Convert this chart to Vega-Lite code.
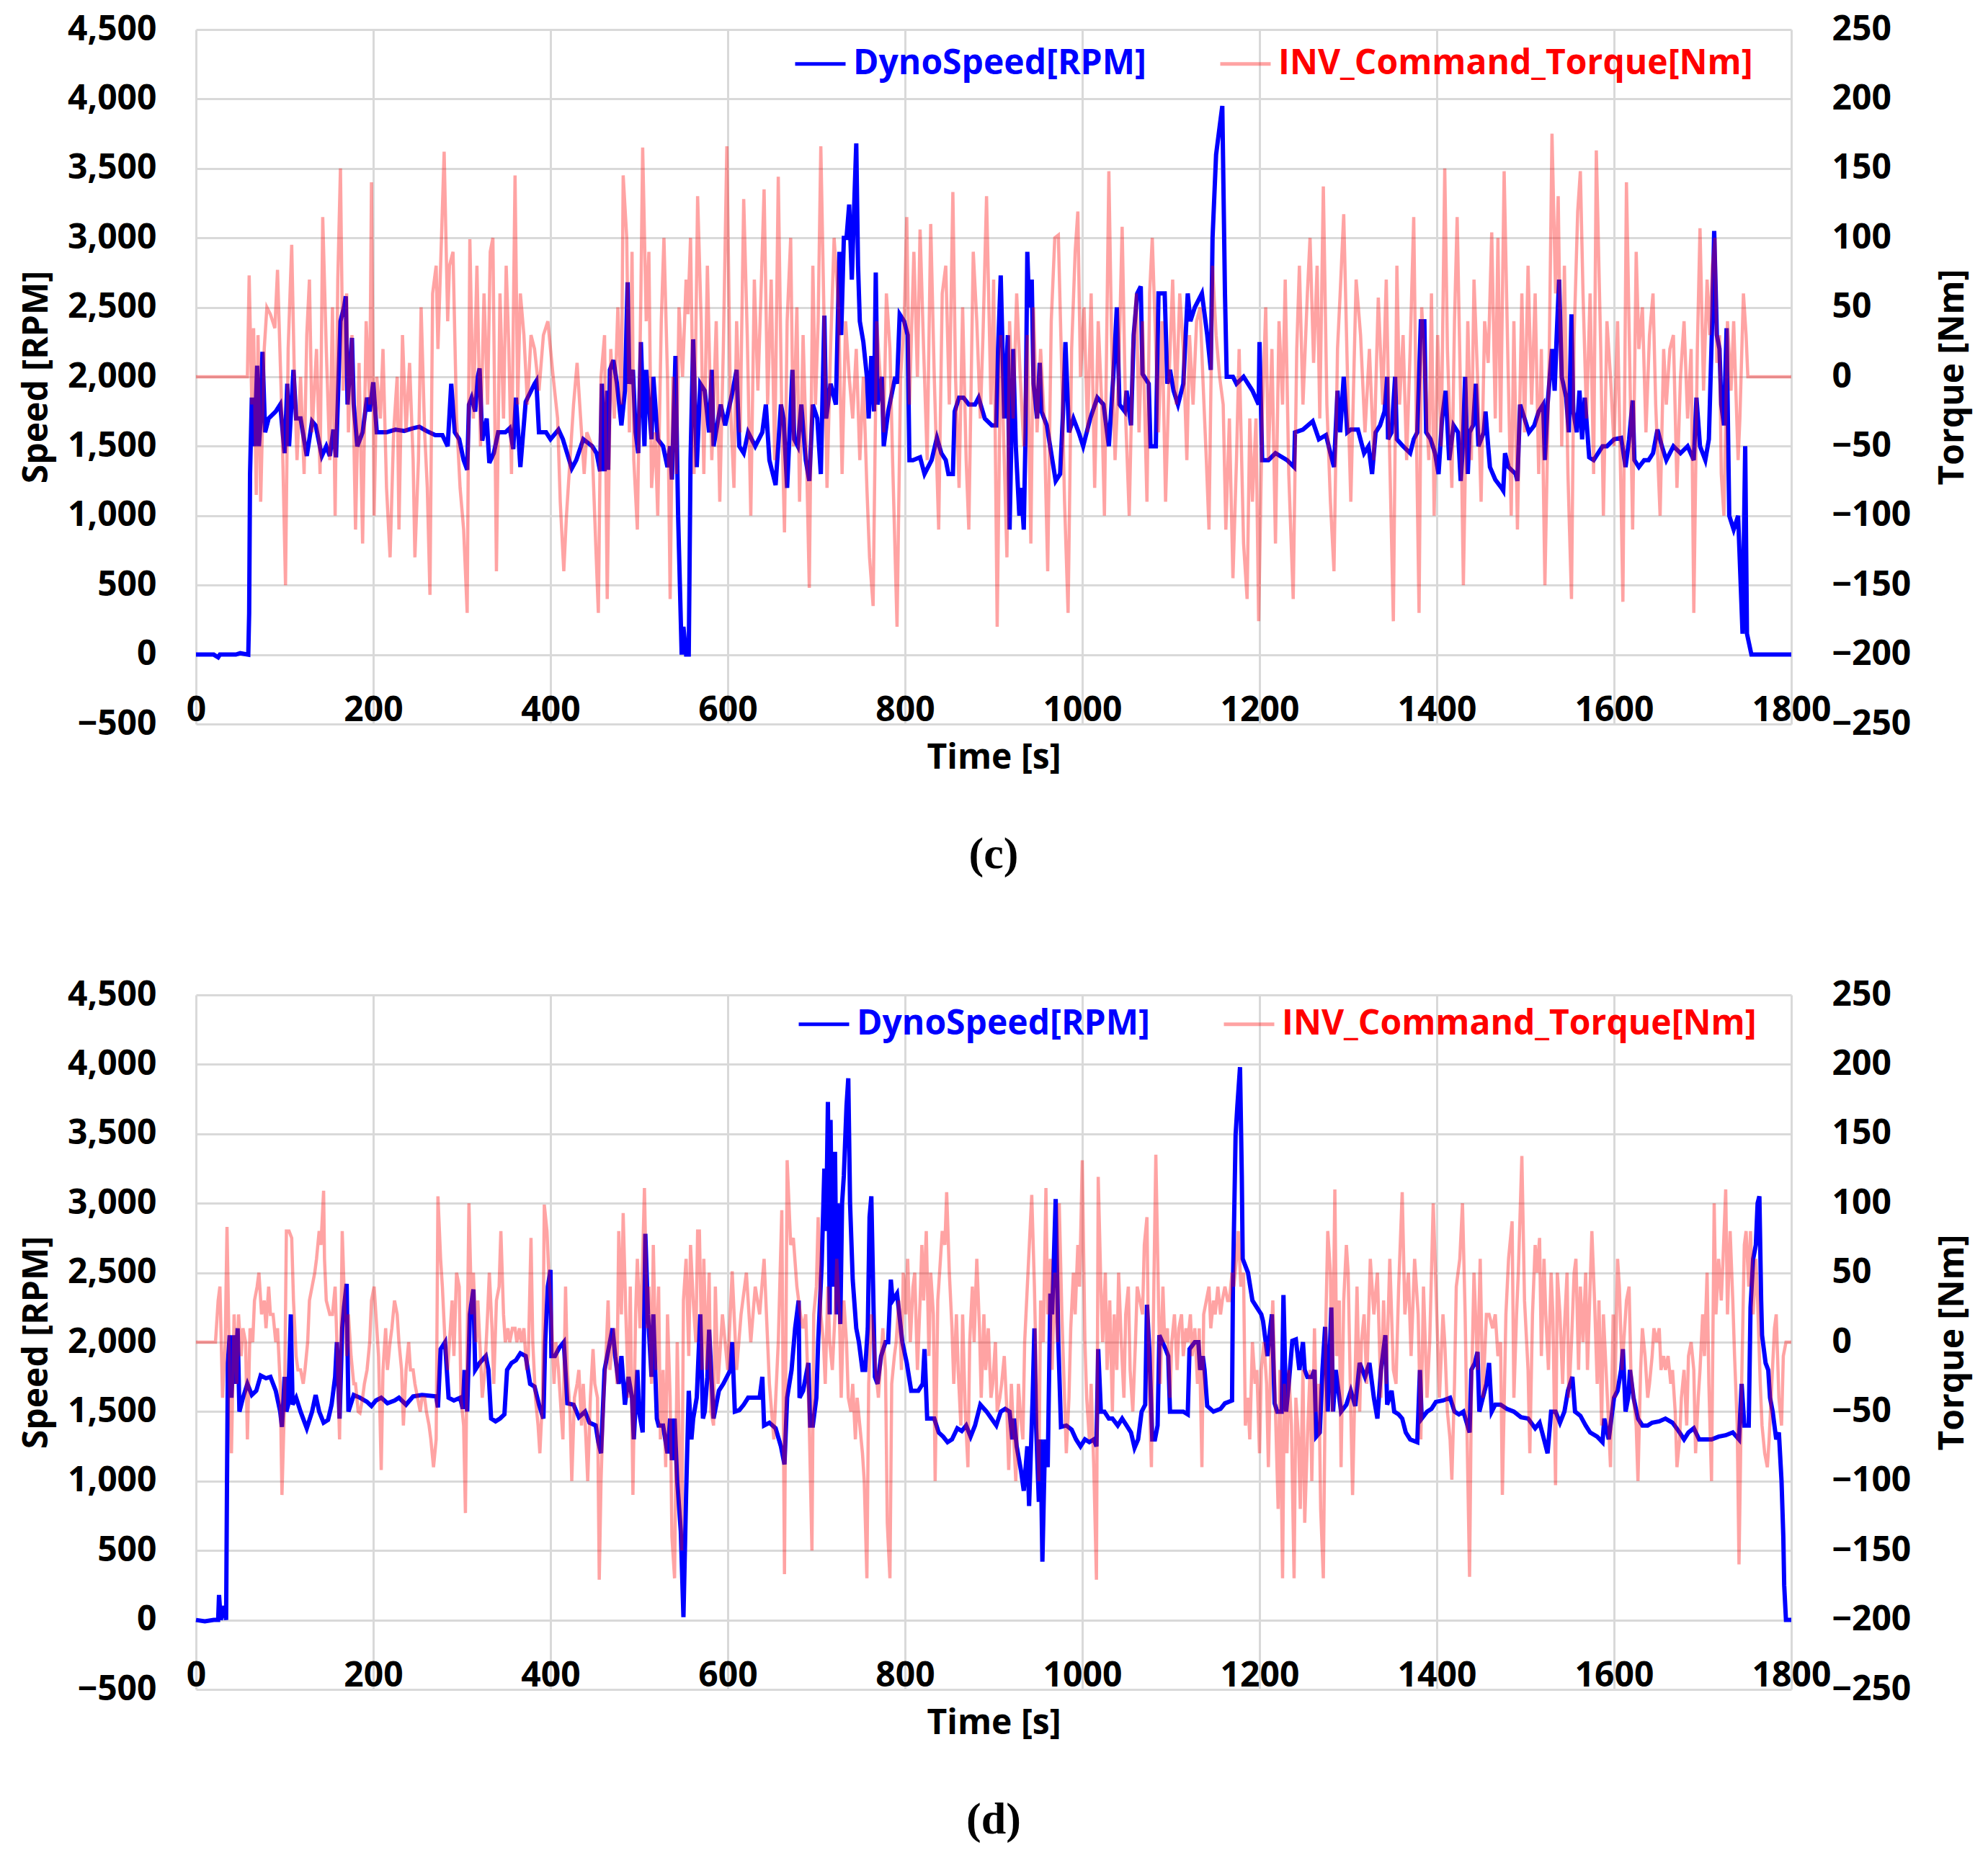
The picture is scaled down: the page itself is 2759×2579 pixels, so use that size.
{
  "$schema": "https://vega.github.io/schema/vega-lite/v6.json",
  "background": "white",
  "padding": {"left": 27, "top": 17, "right": 10, "bottom": 10},
  "spacing": 140,
  "config": {
    "view": {"stroke": null},
    "axis": {
      "labelFont": "Open Sans", "labelFontSize": 48, "labelFontWeight": "bold", "labelColor": "#000000",
      "titleFont": "Open Sans", "titleFontSize": 48, "titleFontWeight": "bold", "titleColor": "#000000",
      "gridColor": "#d9d9d9", "gridWidth": 3, "domain": false, "ticks": false, "labelOverlap": false
    }
  },
  "resolve": {"scale": {"color": "independent"}, "legend": {"color": "independent"}},
  "datasets": {
    "speedC": [
      {"t":0,"v":0},{"t":20,"v":0},{"t":25,"v":-20},{"t":27,"v":0},{"t":45,"v":0},{"t":50,"v":10},{"t":59,"v":0},{"t":60,"v":300},{"t":61,"v":1300},{"t":63,"v":1850},{"t":66,"v":1500},{"t":69,"v":2080},{"t":71,"v":1500},{"t":73,"v":1700},{"t":75,"v":2180},{"t":78,"v":1600},{"t":82,"v":1700},{"t":90,"v":1750},{"t":95,"v":1800},{"t":100,"v":1450},{"t":103,"v":1950},{"t":105,"v":1500},{"t":110,"v":2050},{"t":113,"v":1700},{"t":118,"v":1700},{"t":125,"v":1430},{"t":131,"v":1680},{"t":135,"v":1650},{"t":142,"v":1430},{"t":147,"v":1500},{"t":151,"v":1430},{"t":155,"v":1620},{"t":158,"v":1420},{"t":163,"v":2400},{"t":167,"v":2500},{"t":169,"v":2580},{"t":171,"v":1800},{"t":176,"v":2280},{"t":178,"v":1800},{"t":182,"v":1500},{"t":188,"v":1600},{"t":193,"v":1850},{"t":196,"v":1750},{"t":200,"v":1960},{"t":204,"v":1600},{"t":215,"v":1600},{"t":225,"v":1620},{"t":235,"v":1610},{"t":245,"v":1630},{"t":252,"v":1640},{"t":260,"v":1610},{"t":270,"v":1580},{"t":278,"v":1580},{"t":284,"v":1500},{"t":288,"v":1950},{"t":292,"v":1600},{"t":297,"v":1550},{"t":302,"v":1400},{"t":306,"v":1330},{"t":308,"v":1800},{"t":311,"v":1850},{"t":315,"v":1750},{"t":318,"v":2000},{"t":320,"v":2060},{"t":323,"v":1540},{"t":328,"v":1700},{"t":331,"v":1380},{"t":336,"v":1450},{"t":341,"v":1600},{"t":349,"v":1600},{"t":354,"v":1630},{"t":358,"v":1480},{"t":361,"v":1850},{"t":366,"v":1350},{"t":372,"v":1820},{"t":382,"v":1950},{"t":384,"v":1970},{"t":387,"v":1600},{"t":395,"v":1600},{"t":400,"v":1550},{"t":409,"v":1620},{"t":414,"v":1550},{"t":424,"v":1340},{"t":429,"v":1400},{"t":437,"v":1550},{"t":447,"v":1500},{"t":452,"v":1450},{"t":456,"v":1320},{"t":458,"v":1950},{"t":461,"v":1320},{"t":464,"v":1900},{"t":465,"v":1330},{"t":467,"v":2050},{"t":471,"v":2120},{"t":475,"v":1950},{"t":480,"v":1650},{"t":484,"v":1900},{"t":487,"v":2680},{"t":489,"v":1950},{"t":493,"v":2050},{"t":496,"v":1600},{"t":499,"v":1450},{"t":502,"v":2250},{"t":506,"v":1500},{"t":508,"v":2050},{"t":514,"v":1550},{"t":516,"v":2000},{"t":521,"v":1550},{"t":527,"v":1500},{"t":532,"v":1350},{"t":535,"v":1500},{"t":537,"v":1260},{"t":541,"v":2150},{"t":544,"v":1000},{"t":548,"v":0},{"t":550,"v":200},{"t":553,"v":0},{"t":556,"v":0},{"t":558,"v":1400},{"t":561,"v":2270},{"t":565,"v":1350},{"t":569,"v":1950},{"t":574,"v":1900},{"t":579,"v":1600},{"t":582,"v":2050},{"t":584,"v":1500},{"t":592,"v":1800},{"t":597,"v":1650},{"t":605,"v":1880},{"t":610,"v":2050},{"t":613,"v":1500},{"t":618,"v":1450},{"t":623,"v":1600},{"t":631,"v":1500},{"t":639,"v":1600},{"t":643,"v":1800},{"t":647,"v":1400},{"t":654,"v":1220},{"t":660,"v":1800},{"t":663,"v":1700},{"t":667,"v":1200},{"t":673,"v":2050},{"t":675,"v":1550},{"t":679,"v":1500},{"t":683,"v":1800},{"t":688,"v":1400},{"t":692,"v":1250},{"t":696,"v":1800},{"t":701,"v":1700},{"t":705,"v":1300},{"t":709,"v":2440},{"t":711,"v":1700},{"t":716,"v":1950},{"t":722,"v":1800},{"t":726,"v":2900},{"t":728,"v":2300},{"t":731,"v":3000},{"t":734,"v":3000},{"t":737,"v":3240},{"t":740,"v":2700},{"t":743,"v":3300},{"t":745,"v":3680},{"t":747,"v":2800},{"t":749,"v":2400},{"t":753,"v":2250},{"t":757,"v":2000},{"t":759,"v":1700},{"t":762,"v":2150},{"t":765,"v":1750},{"t":767,"v":2750},{"t":769,"v":1800},{"t":774,"v":2000},{"t":776,"v":1500},{"t":781,"v":1750},{"t":789,"v":2000},{"t":791,"v":1950},{"t":794,"v":2450},{"t":799,"v":2400},{"t":803,"v":2300},{"t":805,"v":1400},{"t":809,"v":1400},{"t":817,"v":1420},{"t":822,"v":1300},{"t":830,"v":1400},{"t":836,"v":1560},{"t":841,"v":1450},{"t":846,"v":1400},{"t":849,"v":1300},{"t":854,"v":1300},{"t":856,"v":1750},{"t":861,"v":1850},{"t":866,"v":1850},{"t":872,"v":1800},{"t":879,"v":1800},{"t":883,"v":1850},{"t":890,"v":1700},{"t":898,"v":1650},{"t":903,"v":1650},{"t":905,"v":2200},{"t":908,"v":2730},{"t":912,"v":1700},{"t":916,"v":2300},{"t":918,"v":900},{"t":922,"v":2200},{"t":925,"v":1500},{"t":929,"v":1000},{"t":931,"v":1200},{"t":934,"v":900},{"t":936,"v":1600},{"t":938,"v":2900},{"t":940,"v":2500},{"t":943,"v":2700},{"t":945,"v":1950},{"t":949,"v":1700},{"t":952,"v":2100},{"t":954,"v":1750},{"t":960,"v":1650},{"t":965,"v":1450},{"t":970,"v":1250},{"t":975,"v":1300},{"t":978,"v":1700},{"t":981,"v":2250},{"t":985,"v":1600},{"t":990,"v":1700},{"t":996,"v":1600},{"t":1001,"v":1500},{"t":1009,"v":1700},{"t":1017,"v":1850},{"t":1024,"v":1800},{"t":1030,"v":1500},{"t":1035,"v":2000},{"t":1039,"v":2500},{"t":1042,"v":1800},{"t":1048,"v":1750},{"t":1050,"v":1900},{"t":1055,"v":1650},{"t":1058,"v":2300},{"t":1062,"v":2600},{"t":1066,"v":2650},{"t":1068,"v":2020},{"t":1075,"v":1950},{"t":1077,"v":1500},{"t":1083,"v":1500},{"t":1086,"v":2600},{"t":1093,"v":2600},{"t":1096,"v":1950},{"t":1099,"v":2050},{"t":1103,"v":1900},{"t":1108,"v":1800},{"t":1114,"v":1950},{"t":1119,"v":2600},{"t":1122,"v":2400},{"t":1127,"v":2500},{"t":1135,"v":2600},{"t":1141,"v":2300},{"t":1145,"v":2050},{"t":1147,"v":3000},{"t":1151,"v":3600},{"t":1155,"v":3800},{"t":1158,"v":3950},{"t":1161,"v":2600},{"t":1163,"v":2000},{"t":1170,"v":2000},{"t":1174,"v":1950},{"t":1182,"v":2000},{"t":1187,"v":1950},{"t":1192,"v":1900},{"t":1199,"v":1800},{"t":1200,"v":2250},{"t":1203,"v":1400},{"t":1210,"v":1400},{"t":1218,"v":1450},{"t":1231,"v":1400},{"t":1239,"v":1350},{"t":1240,"v":1600},{"t":1249,"v":1620},{"t":1260,"v":1680},{"t":1267,"v":1550},{"t":1275,"v":1580},{"t":1280,"v":1450},{"t":1284,"v":1350},{"t":1288,"v":1900},{"t":1291,"v":1600},{"t":1295,"v":2000},{"t":1299,"v":1600},{"t":1303,"v":1620},{"t":1311,"v":1620},{"t":1318,"v":1450},{"t":1323,"v":1500},{"t":1327,"v":1300},{"t":1331,"v":1600},{"t":1336,"v":1650},{"t":1341,"v":1750},{"t":1344,"v":2000},{"t":1345,"v":1550},{"t":1349,"v":1600},{"t":1353,"v":2000},{"t":1355,"v":1550},{"t":1362,"v":1500},{"t":1370,"v":1450},{"t":1374,"v":1550},{"t":1378,"v":1600},{"t":1382,"v":2400},{"t":1386,"v":2400},{"t":1388,"v":1600},{"t":1393,"v":1550},{"t":1398,"v":1450},{"t":1402,"v":1300},{"t":1406,"v":1700},{"t":1410,"v":1900},{"t":1414,"v":1400},{"t":1419,"v":1650},{"t":1424,"v":1600},{"t":1427,"v":1250},{"t":1429,"v":1450},{"t":1432,"v":2000},{"t":1435,"v":1300},{"t":1437,"v":1600},{"t":1441,"v":1650},{"t":1444,"v":1950},{"t":1447,"v":1500},{"t":1453,"v":1600},{"t":1455,"v":1750},{"t":1458,"v":1500},{"t":1460,"v":1350},{"t":1466,"v":1260},{"t":1473,"v":1200},{"t":1475,"v":1180},{"t":1477,"v":1450},{"t":1481,"v":1350},{"t":1489,"v":1300},{"t":1491,"v":1250},{"t":1494,"v":1800},{"t":1499,"v":1700},{"t":1504,"v":1600},{"t":1510,"v":1650},{"t":1515,"v":1750},{"t":1520,"v":1800},{"t":1522,"v":1400},{"t":1525,"v":1800},{"t":1530,"v":2200},{"t":1533,"v":1900},{"t":1535,"v":2250},{"t":1538,"v":2700},{"t":1541,"v":2000},{"t":1546,"v":1850},{"t":1549,"v":1600},{"t":1552,"v":2450},{"t":1554,"v":1750},{"t":1558,"v":1600},{"t":1561,"v":1900},{"t":1564,"v":1550},{"t":1567,"v":1850},{"t":1572,"v":1420},{"t":1577,"v":1400},{"t":1582,"v":1450},{"t":1587,"v":1500},{"t":1592,"v":1500},{"t":1600,"v":1550},{"t":1608,"v":1560},{"t":1613,"v":1350},{"t":1617,"v":1550},{"t":1621,"v":1830},{"t":1623,"v":1400},{"t":1628,"v":1350},{"t":1634,"v":1400},{"t":1639,"v":1400},{"t":1644,"v":1450},{"t":1649,"v":1620},{"t":1654,"v":1500},{"t":1659,"v":1400},{"t":1667,"v":1500},{"t":1675,"v":1450},{"t":1683,"v":1500},{"t":1690,"v":1400},{"t":1693,"v":1850},{"t":1697,"v":1500},{"t":1703,"v":1400},{"t":1707,"v":1550},{"t":1711,"v":2450},{"t":1713,"v":3050},{"t":1716,"v":2300},{"t":1719,"v":2200},{"t":1721,"v":1800},{"t":1724,"v":1650},{"t":1727,"v":2350},{"t":1730,"v":1000},{"t":1735,"v":900},{"t":1740,"v":1000},{"t":1745,"v":150},{"t":1748,"v":1500},{"t":1750,"v":150},{"t":1755,"v":0},{"t":1800,"v":0}
    ],
    "torqueC": [
      {"t":0,"v":0},{"t":58,"v":0},{"t":60,"v":73},{"t":63,"v":-20},{"t":65,"v":35},{"t":68,"v":-85},{"t":70,"v":30},{"t":73,"v":-90},{"t":77,"v":20},{"t":80,"v":50},{"t":84,"v":45},{"t":89,"v":35},{"t":92,"v":77},{"t":97,"v":-30},{"t":101,"v":-150},{"t":104,"v":20},{"t":108,"v":95},{"t":111,"v":0},{"t":114,"v":-60},{"t":118,"v":0},{"t":122,"v":-70},{"t":125,"v":30},{"t":128,"v":70},{"t":131,"v":-40},{"t":136,"v":20},{"t":140,"v":-70},{"t":143,"v":115},{"t":147,"v":20},{"t":151,"v":-60},{"t":154,"v":50},{"t":157,"v":-100},{"t":160,"v":70},{"t":163,"v":150},{"t":166,"v":-10},{"t":170,"v":60},{"t":172,"v":-40},{"t":176,"v":30},{"t":180,"v":-110},{"t":184,"v":10},{"t":188,"v":-120},{"t":192,"v":40},{"t":196,"v":-20},{"t":198,"v":140},{"t":201,"v":-100},{"t":204,"v":0},{"t":208,"v":-30},{"t":211,"v":20},{"t":215,"v":-80},{"t":219,"v":-130},{"t":223,"v":-40},{"t":227,"v":0},{"t":229,"v":-110},{"t":233,"v":30},{"t":237,"v":-40},{"t":241,"v":10},{"t":245,"v":-60},{"t":247,"v":-130},{"t":251,"v":-60},{"t":254,"v":50},{"t":258,"v":-40},{"t":261,"v":-80},{"t":264,"v":-157},{"t":267,"v":60},{"t":271,"v":80},{"t":273,"v":20},{"t":277,"v":100},{"t":280,"v":162},{"t":284,"v":40},{"t":286,"v":80},{"t":290,"v":90},{"t":294,"v":-30},{"t":298,"v":-80},{"t":302,"v":-110},{"t":306,"v":-170},{"t":309,"v":99},{"t":313,"v":-30},{"t":317,"v":80},{"t":321,"v":-50},{"t":325,"v":60},{"t":329,"v":-20},{"t":332,"v":90},{"t":335,"v":100},{"t":339,"v":-140},{"t":343,"v":60},{"t":347,"v":-30},{"t":350,"v":80},{"t":353,"v":20},{"t":356,"v":-70},{"t":360,"v":145},{"t":363,"v":-20},{"t":366,"v":60},{"t":370,"v":30},{"t":374,"v":-20},{"t":378,"v":30},{"t":382,"v":20},{"t":387,"v":-10},{"t":392,"v":30},{"t":397,"v":40},{"t":403,"v":0},{"t":408,"v":-30},{"t":411,"v":-90},{"t":415,"v":-140},{"t":418,"v":-100},{"t":422,"v":-60},{"t":426,"v":-20},{"t":430,"v":10},{"t":434,"v":-30},{"t":438,"v":-70},{"t":441,"v":-40},{"t":447,"v":-50},{"t":451,"v":-120},{"t":454,"v":-170},{"t":457,"v":0},{"t":461,"v":30},{"t":464,"v":-160},{"t":468,"v":20},{"t":472,"v":-30},{"t":476,"v":50},{"t":480,"v":-20},{"t":482,"v":145},{"t":486,"v":100},{"t":489,"v":-40},{"t":492,"v":90},{"t":494,"v":-60},{"t":498,"v":-110},{"t":502,"v":60},{"t":504,"v":165},{"t":508,"v":40},{"t":511,"v":90},{"t":514,"v":-80},{"t":518,"v":-40},{"t":521,"v":-100},{"t":525,"v":40},{"t":528,"v":100},{"t":532,"v":0},{"t":535,"v":-160},{"t":538,"v":0},{"t":542,"v":-70},{"t":545,"v":50},{"t":549,"v":0},{"t":553,"v":70},{"t":555,"v":45},{"t":558,"v":100},{"t":562,"v":-70},{"t":566,"v":130},{"t":570,"v":40},{"t":573,"v":-70},{"t":577,"v":80},{"t":582,"v":-60},{"t":587,"v":40},{"t":591,"v":-90},{"t":595,"v":20},{"t":599,"v":166},{"t":603,"v":-20},{"t":607,"v":-80},{"t":610,"v":40},{"t":614,"v":-40},{"t":618,"v":128},{"t":622,"v":30},{"t":626,"v":-100},{"t":630,"v":70},{"t":634,"v":-10},{"t":638,"v":70},{"t":641,"v":135},{"t":645,"v":-20},{"t":649,"v":70},{"t":653,"v":-60},{"t":657,"v":144},{"t":661,"v":-30},{"t":664,"v":-112},{"t":667,"v":40},{"t":671,"v":100},{"t":674,"v":-50},{"t":678,"v":50},{"t":681,"v":-90},{"t":685,"v":30},{"t":689,"v":-60},{"t":692,"v":-152},{"t":696,"v":80},{"t":699,"v":-20},{"t":702,"v":40},{"t":705,"v":166},{"t":709,"v":30},{"t":712,"v":-80},{"t":716,"v":20},{"t":720,"v":100},{"t":725,"v":50},{"t":729,"v":-70},{"t":733,"v":40},{"t":737,"v":0},{"t":741,"v":-30},{"t":745,"v":20},{"t":749,"v":-60},{"t":753,"v":0},{"t":757,"v":-80},{"t":760,"v":-130},{"t":764,"v":-165},{"t":768,"v":40},{"t":772,"v":0},{"t":776,"v":-40},{"t":779,"v":60},{"t":783,"v":20},{"t":786,"v":-60},{"t":791,"v":-180},{"t":795,"v":0},{"t":799,"v":40},{"t":802,"v":115},{"t":805,"v":-20},{"t":810,"v":90},{"t":814,"v":0},{"t":817,"v":106},{"t":821,"v":20},{"t":825,"v":-60},{"t":829,"v":110},{"t":833,"v":0},{"t":838,"v":-110},{"t":842,"v":60},{"t":846,"v":80},{"t":850,"v":-20},{"t":854,"v":133},{"t":857,"v":0},{"t":861,"v":-80},{"t":865,"v":50},{"t":869,"v":-60},{"t":872,"v":-110},{"t":877,"v":90},{"t":881,"v":40},{"t":885,"v":-30},{"t":888,"v":30},{"t":892,"v":130},{"t":897,"v":-20},{"t":900,"v":70},{"t":904,"v":-180},{"t":908,"v":30},{"t":912,"v":-60},{"t":915,"v":-130},{"t":918,"v":40},{"t":922,"v":-30},{"t":926,"v":60},{"t":930,"v":0},{"t":934,"v":-50},{"t":938,"v":30},{"t":942,"v":-120},{"t":945,"v":50},{"t":949,"v":-40},{"t":953,"v":20},{"t":957,"v":-30},{"t":961,"v":-140},{"t":965,"v":40},{"t":969,"v":100},{"t":973,"v":102},{"t":977,"v":0},{"t":980,"v":-90},{"t":984,"v":-170},{"t":988,"v":20},{"t":992,"v":90},{"t":995,"v":119},{"t":998,"v":0},{"t":1002,"v":50},{"t":1006,"v":-40},{"t":1010,"v":60},{"t":1014,"v":-80},{"t":1018,"v":40},{"t":1022,"v":-20},{"t":1025,"v":-100},{"t":1030,"v":148},{"t":1033,"v":30},{"t":1037,"v":-60},{"t":1041,"v":0},{"t":1045,"v":108},{"t":1049,"v":-30},{"t":1053,"v":-100},{"t":1057,"v":20},{"t":1061,"v":60},{"t":1064,"v":-40},{"t":1068,"v":40},{"t":1073,"v":-90},{"t":1076,"v":60},{"t":1079,"v":100},{"t":1083,"v":20},{"t":1086,"v":-40},{"t":1090,"v":40},{"t":1094,"v":-90},{"t":1098,"v":0},{"t":1102,"v":70},{"t":1106,"v":-20},{"t":1110,"v":60},{"t":1114,"v":20},{"t":1118,"v":-60},{"t":1121,"v":30},{"t":1125,"v":-20},{"t":1129,"v":40},{"t":1133,"v":50},{"t":1136,"v":0},{"t":1140,"v":-60},{"t":1143,"v":-110},{"t":1147,"v":80},{"t":1151,"v":30},{"t":1155,"v":0},{"t":1159,"v":-20},{"t":1162,"v":-110},{"t":1166,"v":-30},{"t":1170,"v":-145},{"t":1174,"v":-60},{"t":1177,"v":20},{"t":1182,"v":-120},{"t":1186,"v":-160},{"t":1189,"v":-30},{"t":1192,"v":-90},{"t":1196,"v":-30},{"t":1199,"v":-176},{"t":1203,"v":-30},{"t":1207,"v":50},{"t":1210,"v":-60},{"t":1214,"v":20},{"t":1218,"v":-120},{"t":1222,"v":40},{"t":1226,"v":-20},{"t":1229,"v":70},{"t":1233,"v":-70},{"t":1238,"v":-160},{"t":1242,"v":20},{"t":1245,"v":80},{"t":1249,"v":-20},{"t":1254,"v":60},{"t":1257,"v":100},{"t":1261,"v":10},{"t":1265,"v":80},{"t":1268,"v":-30},{"t":1272,"v":137},{"t":1276,"v":-20},{"t":1280,"v":-90},{"t":1284,"v":-140},{"t":1288,"v":20},{"t":1291,"v":60},{"t":1295,"v":117},{"t":1300,"v":-20},{"t":1303,"v":-90},{"t":1309,"v":70},{"t":1314,"v":30},{"t":1319,"v":-40},{"t":1324,"v":20},{"t":1329,"v":-60},{"t":1334,"v":57},{"t":1339,"v":-20},{"t":1343,"v":70},{"t":1347,"v":-60},{"t":1351,"v":-176},{"t":1355,"v":80},{"t":1358,"v":-20},{"t":1362,"v":30},{"t":1366,"v":-60},{"t":1370,"v":20},{"t":1374,"v":115},{"t":1377,"v":-40},{"t":1380,"v":-170},{"t":1383,"v":50},{"t":1387,"v":0},{"t":1391,"v":-60},{"t":1394,"v":60},{"t":1397,"v":-100},{"t":1401,"v":30},{"t":1405,"v":-50},{"t":1409,"v":150},{"t":1412,"v":20},{"t":1417,"v":-80},{"t":1420,"v":40},{"t":1423,"v":115},{"t":1427,"v":-20},{"t":1430,"v":-150},{"t":1435,"v":40},{"t":1439,"v":-60},{"t":1442,"v":70},{"t":1446,"v":0},{"t":1450,"v":-90},{"t":1454,"v":40},{"t":1458,"v":10},{"t":1462,"v":104},{"t":1466,"v":-30},{"t":1469,"v":100},{"t":1472,"v":-40},{"t":1476,"v":148},{"t":1480,"v":20},{"t":1484,"v":-100},{"t":1487,"v":40},{"t":1491,"v":-110},{"t":1496,"v":60},{"t":1499,"v":-40},{"t":1503,"v":80},{"t":1507,"v":-20},{"t":1511,"v":60},{"t":1515,"v":-70},{"t":1518,"v":20},{"t":1522,"v":-150},{"t":1527,"v":20},{"t":1530,"v":175},{"t":1534,"v":60},{"t":1537,"v":130},{"t":1541,"v":-50},{"t":1544,"v":80},{"t":1548,"v":-70},{"t":1552,"v":-160},{"t":1555,"v":30},{"t":1559,"v":119},{"t":1562,"v":148},{"t":1565,"v":60},{"t":1569,"v":-30},{"t":1573,"v":60},{"t":1577,"v":-70},{"t":1580,"v":163},{"t":1585,"v":20},{"t":1588,"v":-100},{"t":1592,"v":40},{"t":1596,"v":0},{"t":1600,"v":-50},{"t":1604,"v":40},{"t":1608,"v":-90},{"t":1610,"v":-162},{"t":1614,"v":140},{"t":1618,"v":0},{"t":1621,"v":-110},{"t":1625,"v":90},{"t":1628,"v":20},{"t":1632,"v":50},{"t":1636,"v":-40},{"t":1640,"v":30},{"t":1644,"v":60},{"t":1647,"v":-20},{"t":1652,"v":-100},{"t":1656,"v":20},{"t":1659,"v":-20},{"t":1663,"v":20},{"t":1667,"v":30},{"t":1671,"v":-80},{"t":1675,"v":0},{"t":1679,"v":40},{"t":1683,"v":-30},{"t":1687,"v":20},{"t":1690,"v":-170},{"t":1694,"v":20},{"t":1697,"v":107},{"t":1701,"v":-10},{"t":1705,"v":70},{"t":1708,"v":30},{"t":1711,"v":80},{"t":1714,"v":100},{"t":1716,"v":10},{"t":1719,"v":30},{"t":1721,"v":-70},{"t":1724,"v":-100},{"t":1728,"v":40},{"t":1732,"v":-10},{"t":1735,"v":40},{"t":1740,"v":-60},{"t":1742,"v":-30},{"t":1746,"v":60},{"t":1749,"v":30},{"t":1751,"v":0},{"t":1800,"v":0}
    ],
    "speedD": [
      {"t":0,"v":0},{"t":10,"v":-10},{"t":20,"v":0},{"t":25,"v":0},{"t":26,"v":180},{"t":28,"v":0},{"t":32,"v":100},{"t":34,"v":0},{"t":35,"v":1000},{"t":36,"v":1850},{"t":38,"v":2050},{"t":40,"v":1600},{"t":43,"v":2050},{"t":44,"v":1700},{"t":47,"v":2100},{"t":49,"v":1500},{"t":53,"v":1600},{"t":58,"v":1700},{"t":63,"v":1620},{"t":68,"v":1650},{"t":73,"v":1760},{"t":79,"v":1740},{"t":84,"v":1750},{"t":90,"v":1650},{"t":95,"v":1500},{"t":97,"v":1390},{"t":100,"v":1750},{"t":102,"v":1500},{"t":104,"v":1550},{"t":107,"v":2200},{"t":109,"v":1550},{"t":113,"v":1600},{"t":118,"v":1500},{"t":125,"v":1380},{"t":131,"v":1500},{"t":135,"v":1620},{"t":139,"v":1500},{"t":144,"v":1420},{"t":149,"v":1440},{"t":153,"v":1550},{"t":157,"v":1750},{"t":159,"v":2000},{"t":162,"v":1450},{"t":165,"v":2100},{"t":167,"v":2250},{"t":170,"v":2420},{"t":172,"v":1500},{"t":178,"v":1620},{"t":185,"v":1600},{"t":193,"v":1570},{"t":198,"v":1540},{"t":203,"v":1580},{"t":209,"v":1600},{"t":216,"v":1560},{"t":224,"v":1580},{"t":229,"v":1600},{"t":237,"v":1550},{"t":245,"v":1610},{"t":255,"v":1620},{"t":271,"v":1610},{"t":273,"v":1530},{"t":276,"v":1950},{"t":281,"v":2000},{"t":285,"v":1600},{"t":291,"v":1580},{"t":298,"v":1600},{"t":301,"v":1520},{"t":303,"v":1800},{"t":306,"v":1500},{"t":309,"v":2200},{"t":313,"v":2380},{"t":315,"v":1800},{"t":320,"v":1850},{"t":327,"v":1900},{"t":330,"v":1800},{"t":333,"v":1450},{"t":338,"v":1430},{"t":343,"v":1450},{"t":348,"v":1480},{"t":351,"v":1800},{"t":356,"v":1850},{"t":361,"v":1870},{"t":366,"v":1920},{"t":372,"v":1900},{"t":377,"v":1700},{"t":382,"v":1680},{"t":387,"v":1550},{"t":392,"v":1450},{"t":394,"v":2000},{"t":397,"v":2400},{"t":400,"v":2520},{"t":401,"v":1900},{"t":405,"v":1900},{"t":410,"v":1960},{"t":415,"v":2000},{"t":419,"v":1560},{"t":426,"v":1550},{"t":432,"v":1460},{"t":439,"v":1500},{"t":444,"v":1420},{"t":451,"v":1400},{"t":454,"v":1280},{"t":457,"v":1200},{"t":461,"v":1800},{"t":464,"v":1900},{"t":470,"v":2100},{"t":473,"v":1900},{"t":477,"v":1700},{"t":480,"v":1900},{"t":484,"v":1550},{"t":488,"v":1750},{"t":492,"v":1600},{"t":494,"v":1300},{"t":498,"v":1800},{"t":500,"v":1500},{"t":504,"v":1350},{"t":507,"v":2780},{"t":510,"v":2200},{"t":514,"v":1750},{"t":516,"v":2200},{"t":520,"v":1450},{"t":522,"v":1400},{"t":527,"v":1400},{"t":532,"v":1200},{"t":535,"v":1450},{"t":537,"v":1150},{"t":540,"v":1450},{"t":543,"v":1000},{"t":547,"v":640},{"t":550,"v":20},{"t":553,"v":900},{"t":556,"v":1650},{"t":559,"v":1300},{"t":561,"v":1450},{"t":565,"v":1600},{"t":569,"v":2200},{"t":572,"v":1450},{"t":574,"v":1500},{"t":577,"v":1750},{"t":579,"v":2090},{"t":582,"v":1700},{"t":584,"v":1450},{"t":590,"v":1650},{"t":595,"v":1700},{"t":603,"v":1800},{"t":605,"v":2000},{"t":608,"v":1500},{"t":613,"v":1510},{"t":618,"v":1550},{"t":623,"v":1600},{"t":631,"v":1600},{"t":636,"v":1600},{"t":639,"v":1750},{"t":641,"v":1400},{"t":647,"v":1420},{"t":654,"v":1380},{"t":660,"v":1250},{"t":664,"v":1120},{"t":667,"v":1600},{"t":672,"v":1800},{"t":676,"v":2100},{"t":680,"v":2300},{"t":681,"v":1600},{"t":685,"v":1650},{"t":691,"v":1850},{"t":693,"v":1400},{"t":696,"v":1400},{"t":700,"v":1600},{"t":702,"v":2000},{"t":706,"v":2560},{"t":709,"v":3250},{"t":711,"v":2800},{"t":713,"v":3730},{"t":715,"v":2200},{"t":716,"v":3600},{"t":718,"v":2400},{"t":721,"v":3370},{"t":723,"v":2200},{"t":724,"v":3000},{"t":727,"v":2130},{"t":729,"v":3000},{"t":731,"v":3200},{"t":734,"v":3700},{"t":736,"v":3900},{"t":738,"v":3000},{"t":741,"v":2450},{"t":745,"v":2100},{"t":748,"v":2000},{"t":752,"v":1800},{"t":755,"v":1800},{"t":758,"v":2100},{"t":760,"v":2900},{"t":762,"v":3050},{"t":766,"v":1750},{"t":769,"v":1700},{"t":773,"v":1900},{"t":778,"v":2000},{"t":781,"v":2000},{"t":784,"v":2450},{"t":786,"v":2300},{"t":791,"v":2350},{"t":797,"v":2000},{"t":802,"v":1850},{"t":807,"v":1650},{"t":815,"v":1650},{"t":820,"v":1700},{"t":822,"v":1950},{"t":825,"v":1450},{"t":833,"v":1450},{"t":838,"v":1350},{"t":843,"v":1320},{"t":848,"v":1280},{"t":853,"v":1300},{"t":859,"v":1380},{"t":864,"v":1360},{"t":869,"v":1400},{"t":874,"v":1320},{"t":879,"v":1400},{"t":885,"v":1550},{"t":892,"v":1500},{"t":903,"v":1400},{"t":908,"v":1500},{"t":913,"v":1520},{"t":918,"v":1500},{"t":921,"v":1300},{"t":923,"v":1450},{"t":926,"v":1250},{"t":931,"v":1070},{"t":934,"v":930},{"t":938,"v":1250},{"t":940,"v":820},{"t":944,"v":1600},{"t":946,"v":2100},{"t":948,"v":1380},{"t":951,"v":850},{"t":953,"v":1300},{"t":955,"v":420},{"t":958,"v":1300},{"t":961,"v":1100},{"t":964,"v":2350},{"t":966,"v":2200},{"t":970,"v":3030},{"t":973,"v":2000},{"t":976,"v":1390},{"t":982,"v":1400},{"t":988,"v":1370},{"t":993,"v":1300},{"t":998,"v":1250},{"t":1003,"v":1300},{"t":1008,"v":1280},{"t":1013,"v":1300},{"t":1016,"v":1250},{"t":1018,"v":1950},{"t":1021,"v":1500},{"t":1025,"v":1500},{"t":1030,"v":1450},{"t":1034,"v":1450},{"t":1040,"v":1400},{"t":1045,"v":1450},{"t":1050,"v":1400},{"t":1055,"v":1350},{"t":1059,"v":1240},{"t":1063,"v":1300},{"t":1067,"v":1500},{"t":1071,"v":1550},{"t":1073,"v":2270},{"t":1076,"v":1900},{"t":1079,"v":1300},{"t":1082,"v":1300},{"t":1085,"v":1400},{"t":1087,"v":2050},{"t":1094,"v":1950},{"t":1097,"v":1900},{"t":1099,"v":1500},{"t":1106,"v":1500},{"t":1114,"v":1500},{"t":1119,"v":1480},{"t":1121,"v":1950},{"t":1127,"v":2000},{"t":1131,"v":2000},{"t":1133,"v":1800},{"t":1136,"v":1900},{"t":1138,"v":1800},{"t":1141,"v":1540},{"t":1148,"v":1500},{"t":1156,"v":1520},{"t":1161,"v":1560},{"t":1169,"v":1580},{"t":1170,"v":2400},{"t":1173,"v":3490},{"t":1175,"v":3700},{"t":1178,"v":3980},{"t":1180,"v":3200},{"t":1181,"v":2600},{"t":1187,"v":2500},{"t":1192,"v":2300},{"t":1197,"v":2250},{"t":1202,"v":2200},{"t":1204,"v":2150},{"t":1207,"v":2000},{"t":1209,"v":1900},{"t":1212,"v":2100},{"t":1214,"v":2200},{"t":1217,"v":1560},{"t":1220,"v":1500},{"t":1225,"v":1500},{"t":1227,"v":2340},{"t":1230,"v":1500},{"t":1233,"v":1700},{"t":1237,"v":2010},{"t":1241,"v":2020},{"t":1245,"v":1800},{"t":1249,"v":2000},{"t":1251,"v":1800},{"t":1254,"v":1750},{"t":1259,"v":1750},{"t":1262,"v":1800},{"t":1264,"v":1320},{"t":1268,"v":1350},{"t":1271,"v":1800},{"t":1274,"v":2110},{"t":1277,"v":1500},{"t":1281,"v":2250},{"t":1283,"v":1500},{"t":1286,"v":1800},{"t":1288,"v":1700},{"t":1292,"v":1500},{"t":1298,"v":1550},{"t":1303,"v":1650},{"t":1308,"v":1540},{"t":1313,"v":1850},{"t":1319,"v":1750},{"t":1324,"v":1850},{"t":1329,"v":1600},{"t":1333,"v":1450},{"t":1337,"v":1800},{"t":1339,"v":1900},{"t":1342,"v":2050},{"t":1344,"v":1550},{"t":1349,"v":1650},{"t":1352,"v":1500},{"t":1357,"v":1480},{"t":1361,"v":1450},{"t":1365,"v":1350},{"t":1370,"v":1300},{"t":1378,"v":1280},{"t":1381,"v":1800},{"t":1383,"v":1450},{"t":1389,"v":1500},{"t":1394,"v":1520},{"t":1399,"v":1570},{"t":1407,"v":1580},{"t":1415,"v":1600},{"t":1420,"v":1500},{"t":1425,"v":1480},{"t":1430,"v":1500},{"t":1437,"v":1350},{"t":1439,"v":1800},{"t":1443,"v":1850},{"t":1446,"v":1930},{"t":1448,"v":1500},{"t":1452,"v":1600},{"t":1456,"v":1700},{"t":1459,"v":1850},{"t":1462,"v":1500},{"t":1466,"v":1550},{"t":1472,"v":1550},{"t":1479,"v":1520},{"t":1487,"v":1500},{"t":1495,"v":1460},{"t":1503,"v":1450},{"t":1511,"v":1380},{"t":1516,"v":1420},{"t":1521,"v":1300},{"t":1525,"v":1200},{"t":1529,"v":1500},{"t":1534,"v":1500},{"t":1539,"v":1420},{"t":1544,"v":1500},{"t":1548,"v":1650},{"t":1553,"v":1750},{"t":1556,"v":1500},{"t":1562,"v":1470},{"t":1568,"v":1400},{"t":1573,"v":1350},{"t":1581,"v":1320},{"t":1587,"v":1280},{"t":1589,"v":1450},{"t":1594,"v":1300},{"t":1596,"v":1400},{"t":1600,"v":1600},{"t":1604,"v":1650},{"t":1608,"v":1800},{"t":1610,"v":1950},{"t":1613,"v":1500},{"t":1616,"v":1600},{"t":1618,"v":1800},{"t":1622,"v":1600},{"t":1627,"v":1450},{"t":1632,"v":1400},{"t":1638,"v":1400},{"t":1643,"v":1420},{"t":1651,"v":1430},{"t":1658,"v":1450},{"t":1666,"v":1420},{"t":1674,"v":1350},{"t":1679,"v":1300},{"t":1684,"v":1350},{"t":1690,"v":1380},{"t":1696,"v":1300},{"t":1702,"v":1300},{"t":1710,"v":1300},{"t":1718,"v":1320},{"t":1726,"v":1330},{"t":1734,"v":1350},{"t":1741,"v":1300},{"t":1744,"v":1700},{"t":1747,"v":1400},{"t":1752,"v":1400},{"t":1754,"v":2250},{"t":1757,"v":2600},{"t":1760,"v":2700},{"t":1762,"v":3000},{"t":1764,"v":3050},{"t":1766,"v":2300},{"t":1767,"v":2050},{"t":1771,"v":1850},{"t":1774,"v":1800},{"t":1776,"v":1600},{"t":1779,"v":1500},{"t":1783,"v":1300},{"t":1786,"v":1350},{"t":1789,"v":1000},{"t":1791,"v":600},{"t":1792,"v":250},{"t":1794,"v":0},{"t":1800,"v":0}
    ],
    "torqueD": [
      {"t":0,"v":0},{"t":22,"v":0},{"t":25,"v":30},{"t":27,"v":40},{"t":30,"v":-40},{"t":33,"v":0},{"t":35,"v":83},{"t":38,"v":-30},{"t":40,"v":-80},{"t":43,"v":20},{"t":46,"v":-30},{"t":48,"v":20},{"t":51,"v":-10},{"t":53,"v":10},{"t":56,"v":0},{"t":58,"v":-70},{"t":61,"v":10},{"t":64,"v":0},{"t":66,"v":30},{"t":69,"v":40},{"t":71,"v":50},{"t":74,"v":20},{"t":77,"v":30},{"t":79,"v":10},{"t":82,"v":40},{"t":84,"v":20},{"t":87,"v":20},{"t":90,"v":0},{"t":92,"v":10},{"t":95,"v":-30},{"t":97,"v":-110},{"t":100,"v":-40},{"t":102,"v":80},{"t":105,"v":80},{"t":108,"v":75},{"t":110,"v":30},{"t":113,"v":-10},{"t":115,"v":-20},{"t":118,"v":-20},{"t":121,"v":-30},{"t":123,"v":-20},{"t":126,"v":0},{"t":128,"v":30},{"t":131,"v":40},{"t":134,"v":50},{"t":136,"v":60},{"t":139,"v":80},{"t":141,"v":70},{"t":144,"v":109},{"t":145,"v":60},{"t":147,"v":30},{"t":151,"v":20},{"t":154,"v":20},{"t":157,"v":40},{"t":159,"v":0},{"t":162,"v":-70},{"t":165,"v":80},{"t":167,"v":40},{"t":170,"v":-10},{"t":172,"v":20},{"t":175,"v":-10},{"t":178,"v":-30},{"t":180,"v":-30},{"t":183,"v":-50},{"t":185,"v":-51},{"t":188,"v":-40},{"t":190,"v":-30},{"t":193,"v":-20},{"t":196,"v":0},{"t":198,"v":30},{"t":201,"v":40},{"t":203,"v":20},{"t":206,"v":-10},{"t":209,"v":-92},{"t":211,"v":-20},{"t":214,"v":10},{"t":216,"v":-20},{"t":219,"v":0},{"t":221,"v":10},{"t":224,"v":30},{"t":227,"v":20},{"t":229,"v":0},{"t":232,"v":-20},{"t":234,"v":-60},{"t":237,"v":-20},{"t":240,"v":0},{"t":242,"v":-20},{"t":245,"v":-20},{"t":247,"v":-30},{"t":250,"v":-40},{"t":253,"v":-50},{"t":255,"v":-40},{"t":258,"v":-40},{"t":260,"v":-50},{"t":263,"v":-60},{"t":265,"v":-70},{"t":268,"v":-90},{"t":271,"v":-70},{"t":273,"v":105},{"t":276,"v":60},{"t":278,"v":40},{"t":281,"v":0},{"t":284,"v":-20},{"t":286,"v":0},{"t":289,"v":30},{"t":291,"v":-10},{"t":294,"v":50},{"t":297,"v":40},{"t":299,"v":-40},{"t":302,"v":-60},{"t":304,"v":-123},{"t":306,"v":0},{"t":308,"v":100},{"t":311,"v":20},{"t":313,"v":50},{"t":316,"v":0},{"t":318,"v":30},{"t":321,"v":-10},{"t":323,"v":-40},{"t":326,"v":-20},{"t":329,"v":20},{"t":331,"v":50},{"t":334,"v":10},{"t":336,"v":-30},{"t":339,"v":30},{"t":342,"v":40},{"t":344,"v":80},{"t":347,"v":20},{"t":349,"v":0},{"t":352,"v":10},{"t":354,"v":0},{"t":357,"v":10},{"t":360,"v":10},{"t":362,"v":0},{"t":365,"v":10},{"t":367,"v":0},{"t":370,"v":10},{"t":373,"v":-20},{"t":375,"v":-10},{"t":378,"v":75},{"t":380,"v":0},{"t":383,"v":-40},{"t":386,"v":-60},{"t":388,"v":-80},{"t":391,"v":-40},{"t":393,"v":99},{"t":396,"v":80},{"t":398,"v":50},{"t":401,"v":20},{"t":404,"v":-30},{"t":406,"v":0},{"t":409,"v":-20},{"t":411,"v":-40},{"t":414,"v":-70},{"t":417,"v":40},{"t":419,"v":-20},{"t":422,"v":-50},{"t":424,"v":-100},{"t":427,"v":-40},{"t":430,"v":-30},{"t":432,"v":-20},{"t":435,"v":-60},{"t":437,"v":-30},{"t":440,"v":-70},{"t":442,"v":-100},{"t":445,"v":-40},{"t":448,"v":-5},{"t":450,"v":-30},{"t":453,"v":-40},{"t":455,"v":-171},{"t":457,"v":-100},{"t":460,"v":-40},{"t":462,"v":-20},{"t":465,"v":30},{"t":467,"v":-20},{"t":470,"v":0},{"t":472,"v":10},{"t":475,"v":-30},{"t":477,"v":80},{"t":480,"v":20},{"t":482,"v":93},{"t":485,"v":20},{"t":488,"v":-40},{"t":490,"v":40},{"t":493,"v":-110},{"t":496,"v":20},{"t":498,"v":60},{"t":501,"v":10},{"t":504,"v":60},{"t":506,"v":111},{"t":509,"v":10},{"t":511,"v":40},{"t":514,"v":-30},{"t":516,"v":70},{"t":519,"v":-20},{"t":522,"v":40},{"t":524,"v":-70},{"t":527,"v":-20},{"t":530,"v":-90},{"t":532,"v":20},{"t":535,"v":-40},{"t":537,"v":-140},{"t":540,"v":-170},{"t":543,"v":0},{"t":545,"v":-60},{"t":548,"v":-150},{"t":550,"v":30},{"t":553,"v":60},{"t":556,"v":-10},{"t":558,"v":70},{"t":561,"v":30},{"t":564,"v":0},{"t":566,"v":80},{"t":568,"v":80},{"t":571,"v":-20},{"t":573,"v":60},{"t":576,"v":-20},{"t":579,"v":50},{"t":581,"v":-50},{"t":584,"v":-60},{"t":586,"v":40},{"t":589,"v":-30},{"t":594,"v":20},{"t":600,"v":-20},{"t":605,"v":51},{"t":610,"v":-20},{"t":615,"v":20},{"t":621,"v":50},{"t":626,"v":0},{"t":631,"v":40},{"t":636,"v":20},{"t":641,"v":60},{"t":647,"v":-30},{"t":652,"v":-70},{"t":657,"v":0},{"t":661,"v":95},{"t":664,"v":-167},{"t":667,"v":131},{"t":671,"v":70},{"t":674,"v":75},{"t":678,"v":40},{"t":682,"v":20},{"t":685,"v":10},{"t":688,"v":20},{"t":692,"v":-60},{"t":695,"v":-150},{"t":697,"v":20},{"t":700,"v":40},{"t":702,"v":90},{"t":705,"v":20},{"t":708,"v":0},{"t":710,"v":-30},{"t":713,"v":40},{"t":715,"v":0},{"t":718,"v":-20},{"t":721,"v":20},{"t":723,"v":60},{"t":726,"v":20},{"t":728,"v":-40},{"t":731,"v":30},{"t":734,"v":0},{"t":736,"v":-40},{"t":739,"v":-50},{"t":741,"v":-30},{"t":744,"v":-70},{"t":746,"v":-40},{"t":749,"v":-60},{"t":752,"v":-80},{"t":754,"v":-100},{"t":757,"v":-170},{"t":759,"v":-30},{"t":762,"v":20},{"t":765,"v":0},{"t":767,"v":-20},{"t":770,"v":-40},{"t":772,"v":-20},{"t":775,"v":10},{"t":778,"v":-20},{"t":780,"v":-130},{"t":783,"v":-170},{"t":785,"v":-30},{"t":788,"v":-10},{"t":790,"v":0},{"t":793,"v":30},{"t":796,"v":-20},{"t":798,"v":50},{"t":801,"v":20},{"t":803,"v":60},{"t":806,"v":0},{"t":809,"v":40},{"t":811,"v":50},{"t":814,"v":-20},{"t":817,"v":30},{"t":819,"v":70},{"t":821,"v":30},{"t":824,"v":80},{"t":827,"v":-10},{"t":829,"v":50},{"t":832,"v":20},{"t":834,"v":-100},{"t":837,"v":30},{"t":840,"v":60},{"t":842,"v":80},{"t":845,"v":70},{"t":847,"v":108},{"t":850,"v":50},{"t":853,"v":10},{"t":855,"v":-30},{"t":858,"v":20},{"t":860,"v":-20},{"t":863,"v":-60},{"t":865,"v":20},{"t":868,"v":-50},{"t":871,"v":-90},{"t":873,"v":0},{"t":876,"v":40},{"t":878,"v":0},{"t":881,"v":60},{"t":884,"v":10},{"t":886,"v":-40},{"t":889,"v":20},{"t":891,"v":-20},{"t":894,"v":10},{"t":897,"v":-40},{"t":899,"v":-30},{"t":902,"v":0},{"t":904,"v":-50},{"t":907,"v":-40},{"t":909,"v":-30},{"t":912,"v":-10},{"t":915,"v":-50},{"t":917,"v":-92},{"t":920,"v":-30},{"t":922,"v":-60},{"t":925,"v":-100},{"t":928,"v":-30},{"t":930,"v":-50},{"t":933,"v":-70},{"t":935,"v":0},{"t":938,"v":40},{"t":943,"v":106},{"t":946,"v":40},{"t":948,"v":-20},{"t":951,"v":-100},{"t":953,"v":30},{"t":956,"v":0},{"t":959,"v":111},{"t":961,"v":20},{"t":964,"v":60},{"t":966,"v":-20},{"t":969,"v":50},{"t":972,"v":0},{"t":974,"v":100},{"t":977,"v":20},{"t":980,"v":-40},{"t":982,"v":-80},{"t":985,"v":-40},{"t":987,"v":10},{"t":990,"v":50},{"t":992,"v":20},{"t":995,"v":70},{"t":997,"v":40},{"t":1000,"v":131},{"t":1003,"v":0},{"t":1005,"v":-40},{"t":1008,"v":-70},{"t":1010,"v":-30},{"t":1013,"v":-90},{"t":1016,"v":-171},{"t":1018,"v":119},{"t":1021,"v":40},{"t":1023,"v":0},{"t":1026,"v":50},{"t":1028,"v":-20},{"t":1031,"v":30},{"t":1034,"v":-50},{"t":1036,"v":20},{"t":1039,"v":-20},{"t":1041,"v":50},{"t":1044,"v":0},{"t":1047,"v":-40},{"t":1049,"v":20},{"t":1052,"v":40},{"t":1054,"v":-20},{"t":1057,"v":-50},{"t":1060,"v":0},{"t":1062,"v":40},{"t":1065,"v":30},{"t":1068,"v":20},{"t":1070,"v":70},{"t":1073,"v":90},{"t":1075,"v":-20},{"t":1078,"v":-90},{"t":1081,"v":50},{"t":1083,"v":135},{"t":1086,"v":30},{"t":1088,"v":-30},{"t":1091,"v":40},{"t":1093,"v":0},{"t":1096,"v":10},{"t":1099,"v":-40},{"t":1101,"v":0},{"t":1104,"v":20},{"t":1107,"v":-20},{"t":1109,"v":10},{"t":1112,"v":20},{"t":1114,"v":-10},{"t":1117,"v":10},{"t":1119,"v":0},{"t":1122,"v":20},{"t":1124,"v":-10},{"t":1127,"v":10},{"t":1130,"v":-30},{"t":1132,"v":10},{"t":1135,"v":-90},{"t":1137,"v":20},{"t":1140,"v":30},{"t":1143,"v":40},{"t":1145,"v":10},{"t":1148,"v":30},{"t":1150,"v":20},{"t":1153,"v":40},{"t":1156,"v":20},{"t":1158,"v":30},{"t":1161,"v":40},{"t":1164,"v":30},{"t":1166,"v":30},{"t":1169,"v":50},{"t":1171,"v":40},{"t":1174,"v":60},{"t":1176,"v":80},{"t":1179,"v":40},{"t":1182,"v":50},{"t":1184,"v":-60},{"t":1187,"v":-40},{"t":1189,"v":-70},{"t":1192,"v":0},{"t":1195,"v":-30},{"t":1197,"v":-20},{"t":1200,"v":-80},{"t":1202,"v":-20},{"t":1205,"v":0},{"t":1208,"v":-30},{"t":1210,"v":-90},{"t":1213,"v":0},{"t":1215,"v":30},{"t":1218,"v":-50},{"t":1221,"v":-120},{"t":1223,"v":-20},{"t":1226,"v":-170},{"t":1228,"v":-30},{"t":1231,"v":-80},{"t":1233,"v":-20},{"t":1236,"v":-60},{"t":1239,"v":-170},{"t":1241,"v":-40},{"t":1244,"v":-70},{"t":1246,"v":-120},{"t":1249,"v":-20},{"t":1251,"v":-130},{"t":1254,"v":-70},{"t":1257,"v":-20},{"t":1259,"v":-100},{"t":1262,"v":10},{"t":1264,"v":-50},{"t":1267,"v":-30},{"t":1269,"v":-120},{"t":1272,"v":-170},{"t":1275,"v":20},{"t":1277,"v":80},{"t":1280,"v":50},{"t":1282,"v":-50},{"t":1285,"v":110},{"t":1287,"v":-10},{"t":1290,"v":30},{"t":1292,"v":-90},{"t":1295,"v":30},{"t":1298,"v":70},{"t":1300,"v":50},{"t":1303,"v":-50},{"t":1305,"v":-110},{"t":1308,"v":-20},{"t":1310,"v":40},{"t":1313,"v":-50},{"t":1315,"v":0},{"t":1318,"v":20},{"t":1321,"v":-30},{"t":1325,"v":60},{"t":1329,"v":20},{"t":1333,"v":50},{"t":1337,"v":-40},{"t":1340,"v":30},{"t":1343,"v":-30},{"t":1347,"v":60},{"t":1351,"v":-20},{"t":1354,"v":-30},{"t":1357,"v":40},{"t":1361,"v":108},{"t":1364,"v":20},{"t":1368,"v":50},{"t":1371,"v":-10},{"t":1375,"v":60},{"t":1379,"v":20},{"t":1382,"v":-70},{"t":1385,"v":40},{"t":1389,"v":-40},{"t":1392,"v":0},{"t":1396,"v":100},{"t":1400,"v":20},{"t":1403,"v":-40},{"t":1407,"v":20},{"t":1409,"v":0},{"t":1412,"v":-50},{"t":1415,"v":-70},{"t":1417,"v":-99},{"t":1420,"v":-30},{"t":1422,"v":40},{"t":1426,"v":60},{"t":1429,"v":100},{"t":1432,"v":20},{"t":1434,"v":-60},{"t":1437,"v":-169},{"t":1439,"v":-40},{"t":1442,"v":50},{"t":1446,"v":-20},{"t":1449,"v":60},{"t":1452,"v":-40},{"t":1456,"v":20},{"t":1459,"v":20},{"t":1463,"v":10},{"t":1466,"v":20},{"t":1469,"v":-10},{"t":1472,"v":0},{"t":1474,"v":-110},{"t":1478,"v":20},{"t":1481,"v":60},{"t":1485,"v":87},{"t":1487,"v":-40},{"t":1490,"v":20},{"t":1492,"v":50},{"t":1496,"v":134},{"t":1499,"v":30},{"t":1503,"v":-20},{"t":1505,"v":-80},{"t":1508,"v":20},{"t":1511,"v":70},{"t":1513,"v":50},{"t":1516,"v":75},{"t":1518,"v":-10},{"t":1521,"v":60},{"t":1523,"v":20},{"t":1526,"v":-20},{"t":1529,"v":50},{"t":1531,"v":20},{"t":1534,"v":-103},{"t":1536,"v":50},{"t":1539,"v":20},{"t":1542,"v":-30},{"t":1544,"v":10},{"t":1547,"v":50},{"t":1549,"v":-40},{"t":1552,"v":0},{"t":1555,"v":50},{"t":1557,"v":60},{"t":1560,"v":-20},{"t":1562,"v":40},{"t":1565,"v":0},{"t":1568,"v":50},{"t":1570,"v":-20},{"t":1573,"v":40},{"t":1575,"v":80},{"t":1578,"v":30},{"t":1581,"v":-30},{"t":1583,"v":30},{"t":1586,"v":-60},{"t":1588,"v":20},{"t":1591,"v":-20},{"t":1594,"v":-60},{"t":1596,"v":-90},{"t":1599,"v":20},{"t":1601,"v":-40},{"t":1604,"v":60},{"t":1606,"v":40},{"t":1609,"v":-20},{"t":1612,"v":10},{"t":1614,"v":30},{"t":1617,"v":40},{"t":1619,"v":-20},{"t":1622,"v":-40},{"t":1625,"v":-60},{"t":1627,"v":-100},{"t":1630,"v":-20},{"t":1632,"v":10},{"t":1635,"v":-10},{"t":1638,"v":-40},{"t":1640,"v":-30},{"t":1643,"v":-10},{"t":1645,"v":10},{"t":1648,"v":0},{"t":1651,"v":10},{"t":1653,"v":-20},{"t":1656,"v":-10},{"t":1658,"v":-20},{"t":1661,"v":-10},{"t":1664,"v":-30},{"t":1666,"v":-20},{"t":1669,"v":-50},{"t":1671,"v":-90},{"t":1674,"v":-70},{"t":1676,"v":-40},{"t":1679,"v":-20},{"t":1682,"v":-60},{"t":1684,"v":-10},{"t":1687,"v":0},{"t":1690,"v":-20},{"t":1692,"v":-80},{"t":1695,"v":-40},{"t":1697,"v":-20},{"t":1700,"v":20},{"t":1702,"v":-10},{"t":1705,"v":50},{"t":1707,"v":-30},{"t":1710,"v":-100},{"t":1713,"v":100},{"t":1715,"v":20},{"t":1718,"v":60},{"t":1721,"v":30},{"t":1723,"v":60},{"t":1726,"v":110},{"t":1728,"v":20},{"t":1731,"v":80},{"t":1734,"v":30},{"t":1736,"v":-10},{"t":1739,"v":-60},{"t":1741,"v":-160},{"t":1744,"v":-30},{"t":1747,"v":70},{"t":1749,"v":80},{"t":1752,"v":40},{"t":1754,"v":80},{"t":1757,"v":20},{"t":1760,"v":60},{"t":1762,"v":30},{"t":1765,"v":-30},{"t":1767,"v":-60},{"t":1770,"v":-80},{"t":1773,"v":-90},{"t":1775,"v":-70},{"t":1778,"v":-30},{"t":1781,"v":10},{"t":1783,"v":20},{"t":1786,"v":-40},{"t":1789,"v":-60},{"t":1791,"v":-10},{"t":1794,"v":0},{"t":1800,"v":0}
    ]
  },
  "vconcat": [
    {
      "width": 2214,
      "height": 964,
      "title": {"text": "(c)", "orient": "bottom", "anchor": "middle", "frame": "group", "font": "Liberation Serif", "fontSize": 62, "fontWeight": "bold", "color": "#000000", "offset": 80},
      "resolve": {"scale": {"y": "independent"}},
      "layer": [
        {
          "data": {"name": "speedC"},
          "mark": {"type": "line", "strokeWidth": 6},
          "encoding": {
            "x": {"field": "t", "type": "quantitative", "title": "Time [s]",
              "scale": {"domain": [0, 1800], "nice": false},
              "axis": {"values": [0, 200, 400, 600, 800, 1000, 1200, 1400, 1600, 1800], "format": "d", "labelFlush": false, "labelBaseline": "alphabetic", "labelPadding": -5, "titlePadding": 18, "grid": true}},
            "y": {"field": "v", "type": "quantitative", "title": "Speed [RPM]",
              "scale": {"domain": [-500, 4500], "nice": false, "zero": false},
              "axis": {"orient": "left", "values": [-500, 0, 500, 1000, 1500, 2000, 2500, 3000, 3500, 4000, 4500], "format": ",d", "labelPadding": 55, "titlePadding": 18, "grid": true}},
            "color": {"datum": "DynoSpeed[RPM]", "type": "nominal",
              "scale": {"domain": ["DynoSpeed[RPM]", "INV_Command_Torque[Nm]"], "range": ["#0000ff", "rgba(255,0,0,0.36)"]},
              "legend": {"orient": "none", "legendX": 829, "legendY": 10, "direction": "horizontal", "title": null,
                "symbolType": "stroke", "symbolSize": 4900, "symbolStrokeWidth": 5,
                "labelFont": "Open Sans", "labelFontSize": 48, "labelFontWeight": "bold", "labelOffset": 8, "labelLimit": 1000, "columnPadding": 92,
                "encode": {"labels": {"update": {"fill": {"signal": "datum.value === 'DynoSpeed[RPM]' ? '#0000ff' : '#ff0000'"}}}}}}
          }
        },
        {
          "data": {"name": "torqueC"},
          "mark": {"type": "line", "strokeWidth": 4.5},
          "encoding": {
            "x": {"field": "t", "type": "quantitative"},
            "y": {"field": "v", "type": "quantitative", "title": "Torque [Nm]",
              "scale": {"domain": [-250, 250], "nice": false, "zero": false},
              "axis": {"orient": "right", "values": [-250, -200, -150, -100, -50, 0, 50, 100, 150, 200, 250], "format": "d", "labelPadding": 56, "titlePadding": 83, "titleAngle": 270, "grid": false}},
            "color": {"datum": "INV_Command_Torque[Nm]", "type": "nominal"}
          }
        }
      ]
    },
    {
      "width": 2214,
      "height": 964,
      "title": {"text": "(d)", "orient": "bottom", "anchor": "middle", "frame": "group", "font": "Liberation Serif", "fontSize": 62, "fontWeight": "bold", "color": "#000000", "offset": 80},
      "resolve": {"scale": {"y": "independent"}},
      "layer": [
        {
          "data": {"name": "speedD"},
          "mark": {"type": "line", "strokeWidth": 6},
          "encoding": {
            "x": {"field": "t", "type": "quantitative", "title": "Time [s]",
              "scale": {"domain": [0, 1800], "nice": false},
              "axis": {"values": [0, 200, 400, 600, 800, 1000, 1200, 1400, 1600, 1800], "format": "d", "labelFlush": false, "labelBaseline": "alphabetic", "labelPadding": -5, "titlePadding": 18, "grid": true}},
            "y": {"field": "v", "type": "quantitative", "title": "Speed [RPM]",
              "scale": {"domain": [-500, 4500], "nice": false, "zero": false},
              "axis": {"orient": "left", "values": [-500, 0, 500, 1000, 1500, 2000, 2500, 3000, 3500, 4000, 4500], "format": ",d", "labelPadding": 55, "titlePadding": 18, "grid": true}},
            "color": {"datum": "DynoSpeed[RPM]", "type": "nominal",
              "scale": {"domain": ["DynoSpeed[RPM]", "INV_Command_Torque[Nm]"], "range": ["#0000ff", "rgba(255,0,0,0.36)"]},
              "legend": {"orient": "none", "legendX": 834, "legendY": 3, "direction": "horizontal", "title": null,
                "symbolType": "stroke", "symbolSize": 4900, "symbolStrokeWidth": 5,
                "labelFont": "Open Sans", "labelFontSize": 48, "labelFontWeight": "bold", "labelOffset": 8, "labelLimit": 1000, "columnPadding": 92,
                "encode": {"labels": {"update": {"fill": {"signal": "datum.value === 'DynoSpeed[RPM]' ? '#0000ff' : '#ff0000'"}}}}}}
          }
        },
        {
          "data": {"name": "torqueD"},
          "mark": {"type": "line", "strokeWidth": 4.5},
          "encoding": {
            "x": {"field": "t", "type": "quantitative"},
            "y": {"field": "v", "type": "quantitative", "title": "Torque [Nm]",
              "scale": {"domain": [-250, 250], "nice": false, "zero": false},
              "axis": {"orient": "right", "values": [-250, -200, -150, -100, -50, 0, 50, 100, 150, 200, 250], "format": "d", "labelPadding": 56, "titlePadding": 83, "titleAngle": 270, "grid": false}},
            "color": {"datum": "INV_Command_Torque[Nm]", "type": "nominal"}
          }
        }
      ]
    }
  ]
}
